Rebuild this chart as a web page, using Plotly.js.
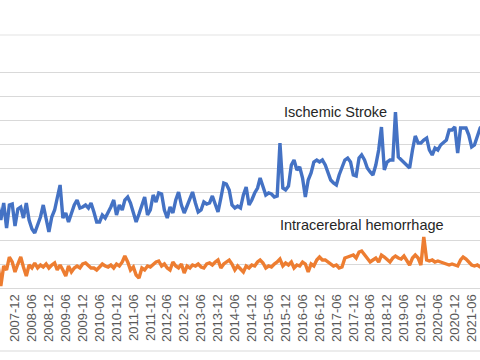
<!DOCTYPE html>
<html>
<head>
<meta charset="utf-8">
<script src="https://cdn.plot.ly/plotly-3.0.1.min.js"></script>
<style>html,body{margin:0;padding:0;background:#fff;}#chart{width:480px;height:360px;}</style>
</head>
<body>
<div id="chart"></div>
<script>
// Monthly series starting 2007-01
const startYear = 2007;
const startMonth = 1;

const ischemicStroke = [
365,330,390,310,380,415,340,425,300,415,420,310,
395,405,350,425,340,295,275,310,355,415,355,280,
355,390,450,515,350,375,330,380,415,440,400,405,
415,400,425,380,330,330,365,350,375,405,440,365,
415,390,440,455,425,380,330,370,415,455,365,390,
465,430,475,470,390,350,405,375,440,480,415,375,
410,450,480,425,380,390,430,420,425,460,415,380,
450,525,520,490,415,400,410,400,465,505,415,440,
475,500,550,510,465,475,470,455,460,725,500,490,
510,615,640,590,605,550,455,540,575,630,640,630,
640,615,580,540,525,515,565,605,640,650,630,565,
560,650,665,640,600,580,565,615,690,805,590,630,
640,640,880,655,640,625,610,600,690,760,725,725,
740,750,690,665,700,690,715,725,740,790,790,805,
675,800,800,800,765,705,715,755,800,815,765
];

const intracerebralHemorrhage = [
110,130,100,120,90,115,10,110,90,155,130,80,
120,155,105,60,115,100,125,100,115,105,120,100,
115,125,90,115,90,60,110,80,100,110,100,120,
125,110,100,100,90,105,120,110,105,115,100,120,
110,130,160,130,90,105,65,50,100,90,110,105,
120,130,135,110,120,100,90,130,110,100,120,75,
110,100,115,110,120,105,100,120,125,115,130,140,
100,120,130,140,120,90,110,95,80,110,100,115,
110,130,140,125,100,110,105,120,130,145,110,125,
115,130,100,115,110,130,120,80,120,110,140,155,
140,140,130,120,110,115,100,105,150,155,160,165,
150,180,185,165,150,130,140,150,130,165,155,140,
130,150,160,150,145,160,140,115,150,165,150,115,
255,140,135,140,130,135,130,125,120,115,120,115,
110,140,155,145,130,115,110,115,105,100,110
];

const seriesNames = ['Ischemic Stroke', 'Intracerebral hemorrhage'];

function monthDates(n) {
  const out = [];
  for (let i = 0; i < n; i++) {
    const m0 = startMonth - 1 + i;
    const y = startYear + Math.floor(m0 / 12);
    const m = (m0 % 12) + 1;
    out.push(y + '-' + String(m).padStart(2, '0') + '-01');
  }
  return out;
}

const months = monthDates(ischemicStroke.length);

const traces = [
  {x: months, y: ischemicStroke, type: 'scatter', mode: 'lines', name: seriesNames[0],
   line: {color: '#4472C4', width: 3.4, shape: 'linear'}},
  {x: months, y: intracerebralHemorrhage, type: 'scatter', mode: 'lines', name: seriesNames[1],
   line: {color: '#ED7D31', width: 3.4, shape: 'linear'}}
];

const layout = {
  width: 480, height: 360,
  margin: {l: 0, r: 0, t: 48, b: 72, pad: 0},
  paper_bgcolor: '#ffffff', plot_bgcolor: '#ffffff',
  showlegend: false,
  font: {family: '"Liberation Sans", Arial, sans-serif', color: '#595959'},
  xaxis: {
    type: 'date', range: ['2007-06-22', '2021-08-30'],
    tick0: '2007-06-01', dtick: 'M6', tickformat: '%Y-%m', tickangle: -90,
    showgrid: false, zeroline: false, showline: true, linecolor: '#d9d9d9', linewidth: 1,
    ticks: '', tickfont: {size: 13, color: '#595959'}
  },
  yaxis: {
    range: [0, 1200], dtick: 120, showticklabels: false, ticks: '',
    showgrid: true, gridcolor: '#d9d9d9', gridwidth: 1, zeroline: false
  },
  shapes: [
    {type: 'line', xref: 'paper', yref: 'paper', x0: 0, x1: 1, y0: 1.0542, y1: 1.0542,
     line: {color: '#e3e3e3', width: 1}},
    {type: 'line', xref: 'paper', yref: 'paper', x0: 0, x1: 1, y0: -0.2625, y1: -0.2625,
     line: {color: '#d9d9d9', width: 1}}
  ],
  annotations: [
    {text: seriesNames[0], xref: 'paper', yref: 'paper', x: 0.699, y: 0.733,
     xanchor: 'center', yanchor: 'middle', showarrow: false,
     font: {size: 14.5, color: '#262626', family: '"Liberation Sans", Arial, sans-serif'}},
    {text: seriesNames[1], xref: 'paper', yref: 'paper', x: 0.755, y: 0.2625,
     xanchor: 'center', yanchor: 'middle', showarrow: false,
     font: {size: 14.5, color: '#262626', family: '"Liberation Sans", Arial, sans-serif'}}
  ]
};

Plotly.newPlot('chart', traces, layout, {staticPlot: true, displayModeBar: false});
</script>
</body>
</html>
